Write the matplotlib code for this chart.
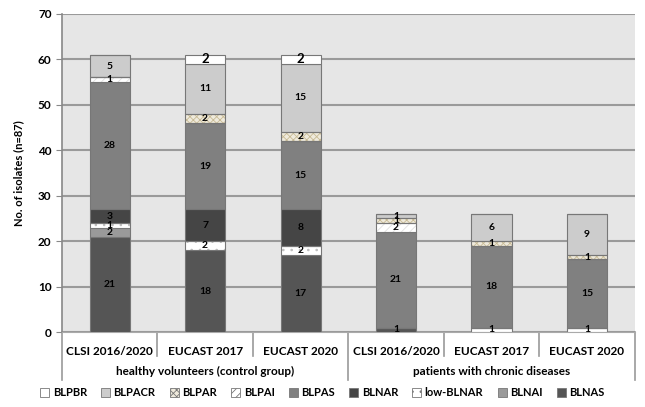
import numpy as np
import matplotlib.pyplot as plt
from matplotlib.patches import Patch
from matplotlib.lines import Line2D

plt.rcParams['font.family'] = ['Lato', 'DejaVu Sans']
plt.rcParams['font.weight'] = 'bold'
plt.rcParams['hatch.linewidth'] = 0.6

categories = ['CLSI 2016/2020', 'EUCAST 2017', 'EUCAST 2020',
              'CLSI 2016/2020', 'EUCAST 2017', 'EUCAST 2020']
groups = ['healthy volunteers (control group)', 'patients with chronic diseases']

# stacked from bottom to top
BLNAS = [21, 18, 17, 1, 0, 0]
BLNAI = [2, 0, 0, 0, 0, 0]
low_BLNAR = [1, 2, 2, 0, 1, 1]
BLNAR = [3, 7, 8, 0, 0, 0]
BLPAS = [28, 19, 15, 21, 18, 15]
BLPAI = [1, 0, 0, 2, 0, 0]
BLPAR = [0, 2, 2, 1, 1, 1]
BLPACR = [5, 11, 15, 1, 6, 9]
BLPBR = [0, 2, 2, 0, 0, 0]

series = [
    ('BLNAS', BLNAS, '#555555', None, None),
    ('BLNAI', BLNAI, '#9a9a9a', None, None),
    ('low-BLNAR', low_BLNAR, '#ffffff', '..', '#bbbbbb'),
    ('BLNAR', BLNAR, '#454545', None, None),
    ('BLPAS', BLPAS, '#808080', None, None),
    ('BLPAI', BLPAI, '#ffffff', '////', '#e0e0e0'),
    ('BLPAR', BLPAR, '#efeadc', 'xxxxx', '#c8bb95'),
    ('BLPACR', BLPACR, '#cccccc', None, None),
    ('BLPBR', BLPBR, '#ffffff', None, None),
]

fig = plt.figure(figsize=(6.45, 4.07), dpi=100)
ax = fig.add_axes([0.096, 0.184, 0.888, 0.782])
ax.set_facecolor('#e6e6e6')

x = np.arange(len(categories))
width = 0.42
bottom = np.zeros(len(categories))
for name, vals, color, hatch, hcolor in series:
    vals = np.array(vals, dtype=float)
    if hatch:
        ax.bar(x, vals, width, bottom=bottom, color=color, hatch=hatch,
               edgecolor=hcolor, linewidth=0, zorder=3)
        ax.bar(x, vals, width, bottom=bottom, color='none',
               edgecolor='#777777', linewidth=0.8, zorder=4)
    else:
        ax.bar(x, vals, width, bottom=bottom, color=color,
               edgecolor='#777777', linewidth=0.8, zorder=3)
    for xi, v, b in zip(x, vals, bottom):
        if v > 0:
            fs = 9.5 if name == 'BLPBR' else 7.5
            ax.text(xi, b + v / 2, f'{int(v)}', ha='center', va='center',
                    fontsize=fs, fontweight='bold', color='black', zorder=5)
    bottom += vals

ax.set_ylim(0, 70)
ax.set_xlim(-0.5, 5.5)
ax.set_yticks(range(0, 71, 10))
ax.yaxis.grid(True, color='#9a9a9a', linewidth=1.5, zorder=0)
ax.set_axisbelow(True)
ax.tick_params(axis='y', labelsize=8.5, length=4, color='#888888')
for lbl in ax.get_yticklabels():
    lbl.set_fontweight('bold')
ax.set_ylabel('No. of isolates (n=87)', fontsize=8, fontweight='bold', labelpad=10)

for s in ['top', 'right']:
    ax.spines[s].set_visible(False)
ax.spines['left'].set_color('#888888')
ax.spines['bottom'].set_color('#aaaaaa')
ax.spines['left'].set_linewidth(1.2)

ax.set_xticks([])
for xi, c in zip(x, categories):
    ax.text(xi, -0.045, c, transform=ax.get_xaxis_transform(), ha='center', va='top',
            fontsize=8.5, fontweight='bold')
# separators between categories
for xb in np.arange(-0.5, 6, 1):
    depth = -0.15 if xb in (-0.5, 2.5, 5.5) else -0.075
    ax.add_line(Line2D([xb, xb], [0, depth], transform=ax.get_xaxis_transform(),
                       color='#999999', linewidth=1.2, clip_on=False))
for gx, g in zip([1, 4], groups):
    ax.text(gx, -0.125, g, transform=ax.get_xaxis_transform(), ha='center', va='center',
            fontsize=8.5, fontweight='bold')

handles = []
for name, vals, color, hatch, hcolor in reversed(series):
    handles.append(Patch(facecolor=color, edgecolor='#777777', hatch=hatch,
                         linewidth=0.6, label=name))
fig.legend(handles=handles, loc='center', bbox_to_anchor=(0.5, 0.035), ncol=9,
           frameon=False, handlelength=0.8, handleheight=0.8,
           handletextpad=0.3, columnspacing=1.3, prop={'weight': 'bold', 'size': 8})

fig.savefig('out.png', dpi=100)
